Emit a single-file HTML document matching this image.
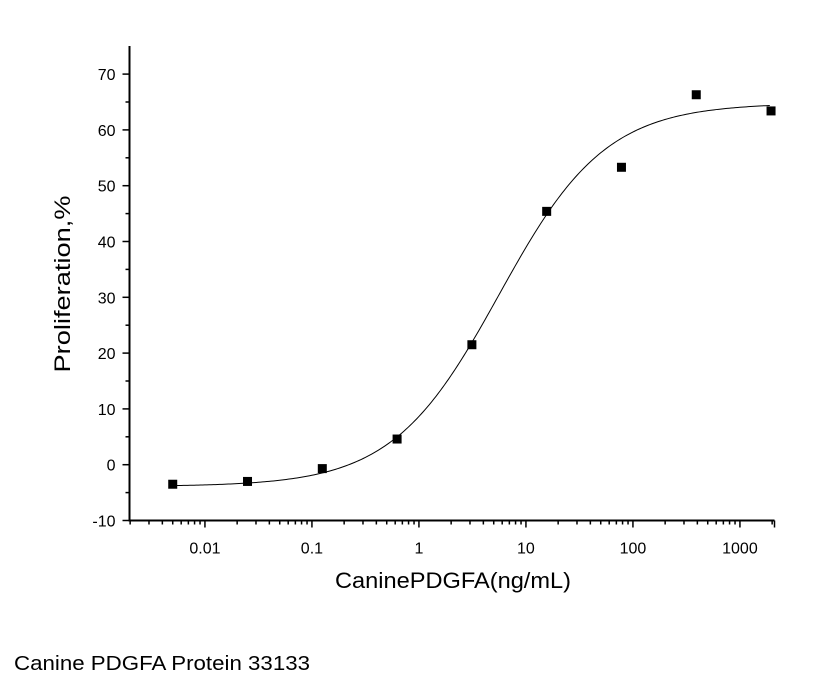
<!DOCTYPE html>
<html><head><meta charset="utf-8"><style>
body{margin:0;background:#fff;}
svg{display:block;font-family:"Liberation Sans",Arial,sans-serif;}
</style></head><body>
<svg id="chart" width="821" height="688" viewBox="0 0 821 688" xmlns="http://www.w3.org/2000/svg">
<g id="axes"></g>
<path id="fit" fill="none" stroke="#000" stroke-width="1"/>
<g id="pts"></g>
<text x="453" y="588" font-size="22" text-anchor="middle" textLength="236" lengthAdjust="spacingAndGlyphs">CaninePDGFA(ng/mL)</text>
<text transform="translate(70,284) rotate(-90)" font-size="22" text-anchor="middle" textLength="177" lengthAdjust="spacingAndGlyphs">Proliferation,%</text>
<text x="14" y="670" font-size="20" textLength="296" lengthAdjust="spacingAndGlyphs">Canine PDGFA Protein 33133</text>
</svg>
<script>
const concentrations=[0.005,0.025,0.125,0.625,3.125,15.625,78.125,390.625,1953.125];
const proliferation=[-3.5,-3.0,-0.7,4.6,21.5,45.4,53.3,66.3,63.4];
const fitBottom=[-3.9];
const fitTop=[64.8];
const fitEC50=[5.6];
const fitHill=[0.87];
const xTickLabels=["0.01","0.1","1","10","100","1000"];
const xTickValues=[0.01,0.1,1,10,100,1000];
const yTickValues=[-10,0,10,20,30,40,50,60,70];

const NS="http://www.w3.org/2000/svg";
const X0=129.5,X1=774.5,Y0=520.5,Y1=46;
const LMIN=-2.705,DEC=107;
const xs=v=>X0+(Math.log10(v)-LMIN)*DEC;
const ys=v=>Y0-(v+10)*55.8/10;
function mk(t,a,p){const e=document.createElementNS(NS,t);for(const k in a)e.setAttribute(k,a[k]);p.appendChild(e);return e;}
const ax=document.getElementById('axes');
let l=mk('line',{x1:X0,y1:Y1,x2:X0,y2:Y0,stroke:'#000','stroke-width':2},ax);


l=mk('line',{x1:X0-1,y1:Y0,x2:X1,y2:Y0,stroke:'#000','stroke-width':2},ax);


yTickValues.forEach(v=>{
  const y=ys(v);
  mk('line',{x1:X0-7,y1:y,x2:X0,y2:y,stroke:'#000','stroke-width':1.5},ax);
  if(v<70){mk('line',{x1:X0-4,y1:ys(v+5),x2:X0,y2:ys(v+5),stroke:'#000','stroke-width':1.5},ax);}
  const t=mk('text',{x:X0-14,y:y+6,'font-size':16,'text-anchor':'end'},ax);
  t.textContent=v;
  
  
});
for(let d=-3;d<=3;d++){for(let m=1;m<=9;m++){
  const v=m*Math.pow(10,d);const x=xs(v);
  if(x<X0-0.5||x>X1+0.5)continue;
  mk('line',{x1:x,y1:Y0,x2:x,y2:Y0+(m===1?7:4),stroke:'#000','stroke-width':1.5},ax);
}}
mk('line',{x1:X1,y1:Y0,x2:X1,y2:Y0+7,stroke:'#000','stroke-width':1.5},ax);
xTickValues.forEach((v,i)=>{
  const t=mk('text',{x:xs(v),y:Y0+33,'font-size':16,'text-anchor':'middle'},ax);
  t.textContent=xTickLabels[i];
  
  
});
let d='';
for(let lx=Math.log10(0.005);lx<=Math.log10(1953.125)+1e-9;lx+=0.02){
  const c=Math.pow(10,lx);
  const yv=fitBottom[0]+(fitTop[0]-fitBottom[0])/(1+Math.pow(fitEC50[0]/c,fitHill[0]));
  d+=(d?'L':'M')+xs(c).toFixed(2)+','+ys(yv).toFixed(2);
}
document.getElementById('fit').setAttribute('d',d);
const pg=document.getElementById('pts');
concentrations.forEach((c,i)=>{
  const r=mk('rect',{x:xs(c)-4.5,y:ys(proliferation[i])-4.5,width:9,height:9,fill:'#000'},pg);
  
  
});
</script>
</body></html>
